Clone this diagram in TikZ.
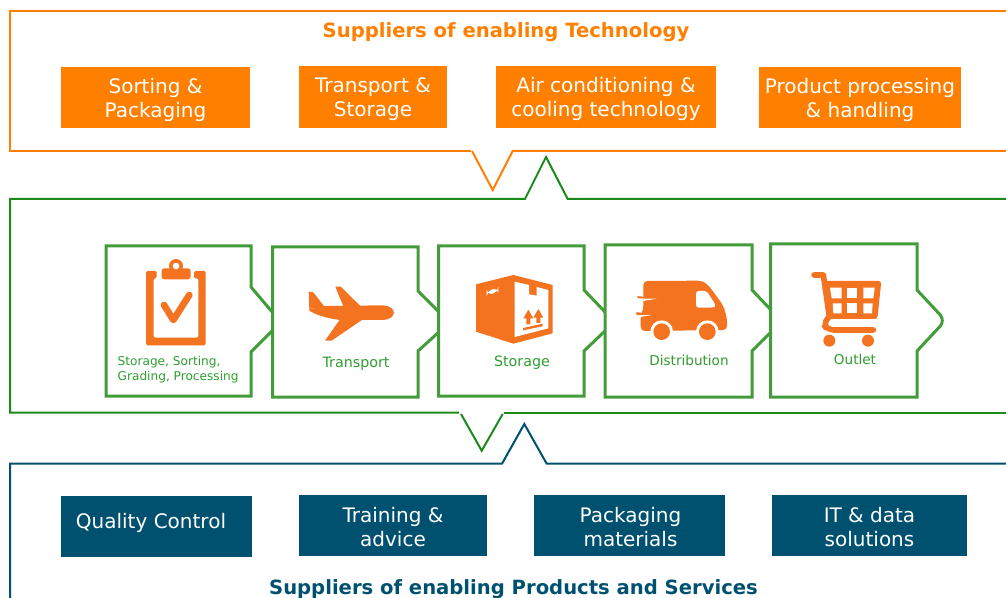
\documentclass[tikz,border=0pt]{standalone}
\usepackage{fontspec}
\setmainfont{DejaVu Sans}
\definecolor{techorange}{HTML}{FF7F00}
\definecolor{iconorange}{HTML}{F47321}
\definecolor{chaingreen}{HTML}{429C3A}
\definecolor{framegreen}{HTML}{1B8A1B}
\definecolor{textgreen}{HTML}{2F9E2F}
\definecolor{servblue}{HTML}{00506F}

\begin{document}
\begin{tikzpicture}[x = 0.75pt, y = -0.75pt,
    techbox/.style = {fill = techorange, inner sep = 0pt},
    servbox/.style = {fill = servblue, inner sep = 0pt},
    boxtext/.style = {text = white, align = center, yshift = -1.5pt, font = \fontsize{15}{18}\selectfont},
    servtext/.style = {text = white, align = center, font = \fontsize{15}{18}\selectfont},
    title/.style = {font = \fontsize{14.7}{17}\selectfont\bfseries},
    steplabel/.style = {text = textgreen, font = \fontsize{10.2}{11.5}\selectfont},
    widelabel/.style = {text = textgreen, font = \fontsize{10.7}{11.5}\selectfont},
    sortstep/.style = {text = textgreen, font = \fontsize{9.1}{11.5}\selectfont},
    chain/.style = {draw = chaingreen, line width = 2.25pt, fill = white, miter limit = 2},
    frame/.style = {line width = 1.5pt},
    iconpart/.style = {x = 0.25pt, y = -0.25pt}]
    \useasboundingbox (0,0) rectangle (1006,598);

    % three frames with their notches
    \draw[frame, techorange] (1006,11) -- (10,11) -- (10,151) -- (471,151);
    \draw[frame, techorange] (472,151) -- (492.7,190) -- (512.7,151) -- (1006,151);
    \draw[frame, framegreen] (1006,199) -- (567.7,199) -- (546,157) -- (525,199) -- (10,199) -- (10,412.7) -- (459,412.7);
    \draw[frame, framegreen] (461,414) -- (481.7,450.7) -- (502.7,414);
    \draw[frame, framegreen] (504,412.7) -- (1006,412.7);
    \draw[frame, servblue] (1006,463.7) -- (546.7,463.7) -- (524.3,424) -- (502,463.7) -- (10,463.7) -- (10,598);

    % titles
    \node[title, text = techorange] (techtitle) at (506,32) {Suppliers of enabling Technology};
    \node[title, text = servblue] (servtitle) at (513.5,589) {Suppliers of enabling Products and Services};

    % top boxes
    \node[techbox, minimum width = 141.75pt, minimum height = 45.75pt, label = {[boxtext]center:Sorting \&\\Packaging}] (sorting) at (155.5,97.5) {};
    \node[techbox, minimum width = 111pt, minimum height = 46.5pt, label = {[boxtext]center:Transport \&\\Storage}] (transportbox) at (373,97) {};
    \node[techbox, minimum width = 165pt, minimum height = 46.5pt, label = {[boxtext]center:Air conditioning \&\\cooling technology}] (aircon) at (606,97) {};
    \node[techbox, minimum width = 151.5pt, minimum height = 45.75pt, label = {[boxtext]center:Product processing\\\& handling}] (processing) at (860,97.5) {};

    % bottom boxes
    \node[servbox, minimum width = 143.25pt, minimum height = 45.75pt] (quality) at (156.5,526.5) {};
    \node[servtext] (qualitytext) at (151,522.5) {Quality Control};
    \node[servbox, minimum width = 141pt, minimum height = 45.75pt, label = {[boxtext]center:Training \&\\advice}] (training) at (393,525.5) {};
    \node[servbox, minimum width = 143.25pt, minimum height = 45.75pt, label = {[boxtext, xshift = 0.75pt]center:Packaging\\materials}] (packaging) at (629.5,525.5) {};
    \node[servbox, minimum width = 146.25pt, minimum height = 45.75pt, label = {[boxtext]center:IT \& data\\solutions}] (itdata) at (869.5,525.5) {};

    % chain steps, each one lies over the tip of the step before
    \draw[chain] (106,246) -- (251,246) -- (251,287) -- (273,313) -- (273,330) -- (251,352) -- (251,396) -- (106,396) -- cycle;
    \draw[chain] (272.5,247) -- (418,247) -- (418,291) -- (440,313) -- (440,331) -- (418,351) -- (418,397) -- (272.5,397) -- cycle;
    \draw[chain] (438.5,246) -- (584,246) -- (584,290) -- (606,313) -- (606,330) -- (584,351) -- (584,396) -- (438.5,396) -- cycle;
    \draw[chain] (605,245) -- (752,245) -- (752,290) -- (771,310) -- (771,332) -- (752,351) -- (752,397) -- (605,397) -- cycle;
    \draw[chain] (770.5,244) -- (917,244) -- (917,290) [rounded corners = 6pt] -- (945.5,320.5) [sharp corners] -- (917,351) -- (917,397) -- (770.5,397) -- cycle;

    % step labels
    \node[sortstep, align = left, anchor = west] (sortlabel) at (113,369.5) {Storage, Sorting,\\Grading, Processing};
    \node[widelabel] (transportlabel) at (356,364) {Transport};
    \node[widelabel] (storagelabel) at (522,363) {Storage};
    \node[steplabel] (distlabel) at (689,360.5) {Distribution};
    \node[steplabel] (outletlabel) at (855,359) {Outlet};

    % clipboard
    \begin{scope}[shift = {(100,235)}, iconpart]
        \fill[iconorange, rounded corners = 1pt, even odd rule] (138,108) -- (170,108) -- (170,130) -- (161,130) -- (161,308) -- (295,308) -- (295,130) -- (282,130) -- (282,108) -- (317,108) -- (317,331) -- (138,331) -- cycle;
        \fill[iconorange, rounded corners = 2pt] (185,100) -- (272,100) -- (272,133) -- (185,133) -- cycle;
        \fill[iconorange] (228,93) circle (21);
        \fill[white] (228,93) circle (10);
        \draw[iconorange, line width = 5pt, line join = round, line cap = round] (192,210) -- (220,255) -- (268,180);
    \end{scope}

    % airplane
    \begin{scope}[shift = {(100,235)}, iconpart]
        \fill[iconorange] (625,224) -- (672,213) -- (850,211) .. controls (892,214) and (892,252) .. (850,255) -- (720,255) .. controls (680,250) and (640,238) .. (625,224) -- cycle;
        \fill[iconorange] (628,222) -- (626,170) -- (640,172) -- (674,216) -- cycle;
        \fill[iconorange] (706,155) -- (722,155) -- (782,214) -- (730,214) -- cycle;
        \fill[iconorange] (722,250) -- (675,317) -- (695,317) -- (790,252) -- cycle;
    \end{scope}

    % parcel
    \begin{scope}[shift = {(430,235)}, iconpart]
        \fill[iconorange] (138,148) -- (250,120) -- (368,150) -- (368,295) -- (250,326) -- (138,290) -- cycle;
        \fill[white] (254,140) -- (297,150) -- (297,178) -- (320,182) -- (320,156) -- (355,165) -- (355,280) -- (254,306) -- cycle;
        \fill[white, rounded corners = 4pt] (170,168) -- (205,158) -- (205,172) -- (170,180) -- cycle;
        \fill[iconorange] (295,224) -- (310,250) -- (301,250) -- (301,268) -- (289,268) -- (289,250) -- (280,250) -- cycle;
        \fill[iconorange] (325,222) -- (340,248) -- (331,248) -- (331,264) -- (319,264) -- (319,248) -- (310,248) -- cycle;
        \fill[iconorange] (279,279) -- (338,266) -- (338,274) -- (279,286) -- cycle;
    \end{scope}

    % van
    \begin{scope}[shift = {(430,235)}, iconpart]
        \fill[iconorange, rounded corners = 3pt] (640,138) -- (815,137) -- (835,150) -- (880,212) -- (891,250) -- (891,285) -- (632,288) -- (632,240) -- (640,225) -- cycle;
        \fill[white] (640,191) -- (680,191) -- (640,198) -- cycle;
        \fill[white] (630,240) -- (665,240) -- (630,246) -- cycle;
        \fill[iconorange, rounded corners = 1pt] (620,183) -- (680,189) -- (622,190) -- cycle;
        \fill[iconorange, rounded corners = 1pt] (617,231) -- (665,238) -- (618,240) -- cycle;
        \fill[white, rounded corners = 2pt] (798,168) -- (830,168) -- (858,212) -- (850,218) -- (798,218) -- cycle;
        \fill[white] (695,290) circle (34) (832,290) circle (34);
        \fill[white] (650,290) rectangle (880,320);
        \fill[iconorange] (695,290) circle (25) (832,290) circle (25);
    \end{scope}

    % cart
    \begin{scope}[shift = {(740,235)}, iconpart]
        \draw[iconorange, line width = 4.2pt, line cap = round, line join = round] (222,120) -- (250,120) -- (268,245);
        \draw[iconorange, line width = 4.2pt, line cap = round, rounded corners = 5pt] (268,245) -- (249,265) -- (262,285) -- (400,285);
        \fill[iconorange, rounded corners = 2pt] (250,138) -- (424,138) -- (412,252) -- (264,252) -- cycle;
        \fill[white] (270,158) -- (305,158) -- (305,190) -- (275,190) -- cycle;
        \fill[white] (322,158) -- (352,158) -- (352,190) -- (322,190) -- cycle;
        \fill[white] (370,158) -- (404,158) -- (400,190) -- (370,190) -- cycle;
        \fill[white] (278,205) -- (305,205) -- (305,235) -- (280,235) -- cycle;
        \fill[white] (322,205) -- (352,205) -- (352,235) -- (322,235) -- cycle;
        \fill[white] (370,205) -- (398,205) -- (396,235) -- (370,235) -- cycle;
        \fill[iconorange] (268,317) circle (18) (384,317) circle (18);
    \end{scope}
\end{tikzpicture}
\end{document}
